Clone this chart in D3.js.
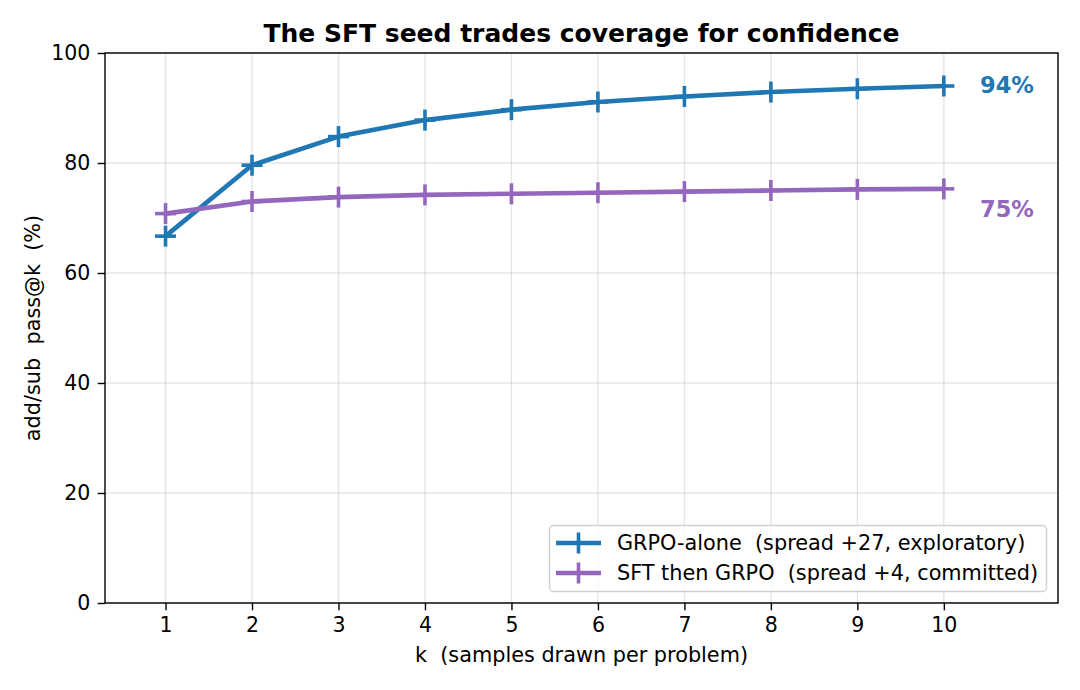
<!DOCTYPE html>
<html><head><meta charset="utf-8">
<script src="https://cdn.jsdelivr.net/npm/d3@7"></script>
<style>body{margin:0;background:#fff;}svg{display:block;font-family:"DejaVu Sans",sans-serif;}text{white-space:pre;}</style>
</head><body>
<svg id="chart" width="1080" height="690"></svg>
<script>
const kValues = [1,2,3,4,5,6,7,8,9,10];
const grpoAlone = [66.7,79.6,84.8,87.8,89.7,91.1,92.1,92.9,93.5,94.0];
const sftThenGrpo = [70.8,73.0,73.8,74.2,74.4,74.6,74.8,75.0,75.2,75.3];
const seriesNames = ["GRPO-alone  (spread +27, exploratory)","SFT then GRPO  (spread +4, committed)"];
const seriesColors = ["#1f77b4","#9467bd"];
const endLabels = ["94%","75%"];
const endLabelY = [94.2,71.6];
const yTicks = [0,20,40,60,80,100];
const xTicks = [1,2,3,4,5,6,7,8,9,10];
const titleText = "The SFT seed trades coverage for confidence";
const xLabelText = "k  (samples drawn per problem)";
const yLabelText = "add/sub  pass@k  (%)";

const svg = d3.select("#chart");
const L=105,R=1058,T=53,B=603;
const x = d3.scaleLinear().domain([0.3,11.32]).range([L,R]);
const y = d3.scaleLinear().domain([0,100]).range([B,T]);

// grid
const g = svg.append("g");
g.selectAll(".vg").data(xTicks).enter().append("line")
 .attr("x1",d=>x(d)).attr("x2",d=>x(d)).attr("y1",T).attr("y2",B)
 .attr("stroke","#000").attr("stroke-opacity",0.1).attr("stroke-width",1.4);
g.selectAll(".hg").data(yTicks).enter().append("line")
 .attr("x1",L).attr("x2",R).attr("y1",d=>y(d)).attr("y2",d=>y(d))
 .attr("stroke","#000").attr("stroke-opacity",0.1).attr("stroke-width",1.4);

// axes
const xAxis = svg.append("g").attr("transform",`translate(0,${B})`)
 .call(d3.axisBottom(x).tickValues(xTicks).tickSize(7.3).tickPadding(7.3).tickFormat(d3.format("d")));
const yAxis = svg.append("g").attr("transform",`translate(${L},0)`)
 .call(d3.axisLeft(y).tickValues(yTicks).tickSize(7.3).tickPadding(7.3));
[xAxis,yAxis].forEach(a=>{
  a.select(".domain").remove();
  a.selectAll("line").attr("stroke","#000").attr("stroke-width",1.4);
  a.selectAll("text").attr("font-size",20.5).attr("fill","#000").attr("font-family","DejaVu Sans");
});
// frame
svg.append("rect").attr("x",L).attr("y",T).attr("width",R-L).attr("height",B-T)
 .attr("fill","none").attr("stroke","#000").attr("stroke-width",1.4);

const seriesData = [grpoAlone, sftThenGrpo];
const line = d3.line().x((d,i)=>x(kValues[i])).y(d=>y(d));
seriesData.forEach((vals,si)=>{
  const c = seriesColors[si];
  svg.append("path").datum(vals).attr("d",line).attr("fill","none")
    .attr("stroke",c).attr("stroke-width",4.6).attr("stroke-linejoin","round").attr("stroke-linecap","butt");
  const m = svg.append("g");
  vals.forEach((v,i)=>{
    const cx=x(kValues[i]), cy=y(v);
    m.append("line").attr("x1",cx-10.5).attr("x2",cx+10.5).attr("y1",cy).attr("y2",cy).attr("stroke",c).attr("stroke-width",3.6);
    m.append("line").attr("x1",cx).attr("x2",cx).attr("y1",cy-10.5).attr("y2",cy+10.5).attr("stroke",c).attr("stroke-width",3.6);
  });
  svg.append("text").attr("x",980).attr("y",y(endLabelY[si])).attr("dy","0.365em")
    .attr("fill",c).attr("font-weight","bold").attr("font-size",22.5).text(endLabels[si]);
});

// title & labels
svg.append("text").attr("x",(L+R)/2).attr("y",42).attr("text-anchor","middle")
 .attr("font-weight","bold").attr("font-size",25).text(titleText);
svg.append("text").attr("x",(L+R)/2).attr("y",662).attr("text-anchor","middle")
 .attr("font-size",20.8).text(xLabelText);
svg.append("text").attr("transform",`translate(40,${(T+B)/2}) rotate(-90)`).attr("text-anchor","middle")
 .attr("font-size",20.8).text(yLabelText);

// legend
const lg = svg.append("g");
lg.append("rect").attr("x",549.5).attr("y",525.5).attr("width",497).attr("height",66).attr("rx",4)
 .attr("fill","#fff").attr("fill-opacity",0.8).attr("stroke","#d0d0d0").attr("stroke-width",1.4);
seriesNames.forEach((n,i)=>{
  const cy = 543 + i*30, c = seriesColors[i];
  lg.append("line").attr("x1",556).attr("x2",601).attr("y1",cy).attr("y2",cy).attr("stroke",c).attr("stroke-width",4.6);
  lg.append("line").attr("x1",578.5-10.5).attr("x2",578.5+10.5).attr("y1",cy).attr("y2",cy).attr("stroke",c).attr("stroke-width",3.6);
  lg.append("line").attr("x1",578.5).attr("x2",578.5).attr("y1",cy-10.5).attr("y2",cy+10.5).attr("stroke",c).attr("stroke-width",3.6);
  lg.append("text").attr("x",617).attr("y",cy).attr("dy","0.36em").attr("font-size",20.8).text(n);
});
</script>
</body></html>
